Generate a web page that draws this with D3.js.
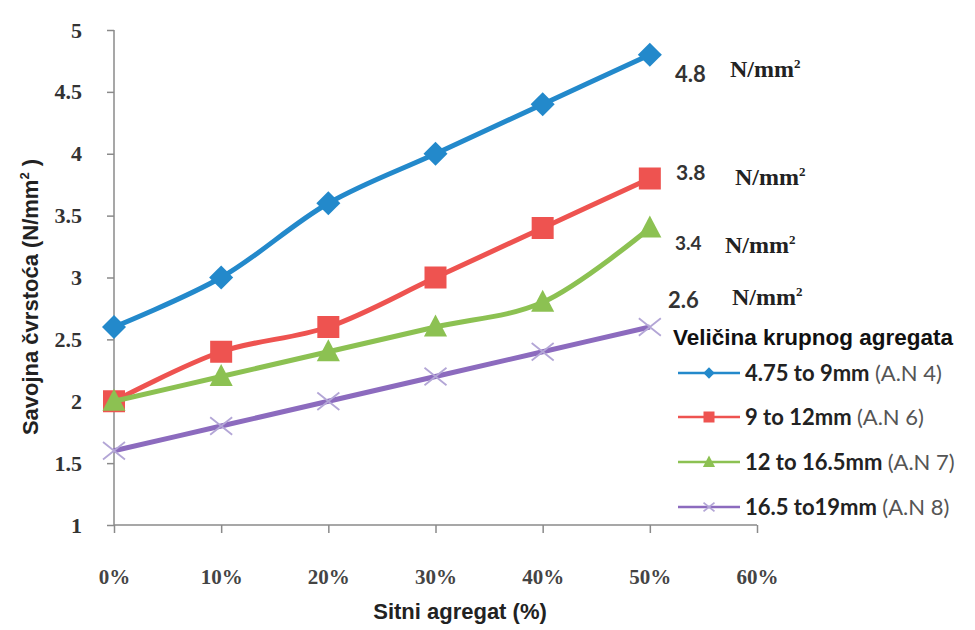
<!DOCTYPE html>
<html><head><meta charset="utf-8">
<script src="https://cdn.jsdelivr.net/npm/d3@7"></script>
<style>body{margin:0;background:#fff}svg{display:block}</style>
</head><body>
<svg id="chart" width="975" height="630"></svg>
<script>
const categories = ["0%","10%","20%","30%","40%","50%"];
const xTickLabels = ["0%","10%","20%","30%","40%","50%","60%"];
const yTicks = [1,1.5,2,2.5,3,3.5,4,4.5,5];
const seriesNames = ["4.75 to 9mm","9 to 12mm","12 to 16.5mm","16.5 to19mm"];
const seriesCodes = ["(A.N 4)","(A.N 6)","(A.N 7)","(A.N 8)"];
const blueValues   = [2.6, 3.0, 3.6, 4.0, 4.4, 4.8];
const redValues    = [2.0, 2.4, 2.6, 3.0, 3.4, 3.8];
const greenValues  = [2.0, 2.2, 2.4, 2.6, 2.8, 3.4];
const purpleValues = [1.6, 1.8, 2.0, 2.2, 2.4, 2.6];
const endLabels = ["4.8","3.8","3.4","2.6"];

const colors = ["#2389CB","#EE5350","#8CC152","#8C6BBE"];
const markers = ["diamond","square","triangle","x"];
const allValues = [blueValues, redValues, greenValues, purpleValues];

const svg = d3.select("#chart");
const x = d3.scalePoint().domain(xTickLabels).range([114, 757]);
const y = d3.scaleLinear().domain([1,5]).range([525, 30]);

const tickFont = "'Liberation Serif', 'Times New Roman', serif";
const sansFont = "Arial, 'Liberation Sans', sans-serif";

// Y axis
const yAxis = svg.append("g").attr("transform","translate(114,0)")
  .call(d3.axisLeft(y).tickValues(yTicks).tickSize(7).tickPadding(25).tickFormat(d3.format("")));
yAxis.select(".domain").attr("stroke","#8a8a8a").attr("stroke-width",1.5).attr("d","M0,30V525");
yAxis.selectAll(".tick line").attr("stroke","#8a8a8a").attr("stroke-width",1.5);
yAxis.selectAll(".tick text").attr("font-family",tickFont).attr("font-size",22).attr("font-weight",700).attr("fill","#333");

// X axis
const xAxis = svg.append("g").attr("transform","translate(0,525)")
  .call(d3.axisBottom(x).tickSize(8).tickPadding(36));
xAxis.select(".domain").attr("stroke","#8a8a8a").attr("stroke-width",1.5).attr("d","M114,0H757");
xAxis.selectAll(".tick line").attr("stroke","#8a8a8a").attr("stroke-width",1.5);
xAxis.selectAll(".tick text").attr("font-family",tickFont).attr("font-size",21).attr("font-weight",700).attr("fill","#444");

// Axis titles
svg.append("text").attr("x",460).attr("y",619).attr("text-anchor","middle")
  .attr("font-family",sansFont).attr("font-weight",700).attr("font-size",22).attr("fill","#222")
  .text("Sitni agregat (%)");
const yt = svg.append("text").attr("transform","translate(38,297) rotate(-90)").attr("text-anchor","middle")
  .attr("font-family",sansFont).attr("font-weight",700).attr("font-size",22).attr("fill","#222");
yt.append("tspan").text("Savojna čvrstoća (N/mm");
yt.append("tspan").attr("dy",-9).attr("font-size",13).text("2");
yt.append("tspan").attr("dy",9).text(" )");

function drawMarker(g, type, cx, cy, color, s) {
  if (type === "diamond") {
    g.append("path").attr("d", d3.symbol(d3.symbolSquare, s*s)())
      .attr("transform",`translate(${cx},${cy}) rotate(45)`).attr("fill",color);
  } else if (type === "square") {
    g.append("rect").attr("x",cx-s/2).attr("y",cy-s/2).attr("width",s).attr("height",s).attr("fill",color);
  } else if (type === "triangle") {
    g.append("path").attr("d",`M${cx},${cy-s*0.6}L${cx+s*0.55},${cy+s*0.45}L${cx-s*0.55},${cy+s*0.45}Z`).attr("fill",color);
  } else {
    const h = s/2;
    g.append("path").attr("d",`M${cx-h},${cy-h*0.8}L${cx+h},${cy+h*0.8}M${cx-h},${cy+h*0.8}L${cx+h},${cy-h*0.8}`)
      .attr("stroke","#B3A6D6").attr("stroke-width",1.8).attr("fill","none");
  }
}

const line = d3.line().x((d,i)=>x(categories[i])).y(d=>y(d)).curve(d3.curveCatmullRom.alpha(0.5));
const markerSizes = [17, 22, 21, 22];

allValues.forEach((vals, si) => {
  const g = svg.append("g");
  g.append("path").datum(vals).attr("d", line).attr("fill","none")
    .attr("stroke", colors[si]).attr("stroke-width", 5).attr("stroke-linejoin","round");
  vals.forEach((v,i) => drawMarker(g, markers[si], x(categories[i]), y(v), colors[si], markerSizes[si]));
});

// End annotations
const annPos = [[675,82,730,77,22],[676,180,735,185,21],[675,250,725,253,19],[668,308,732,305,22]];
endLabels.forEach((t,i) => {
  const [lx,ly,ux,uy,fs] = annPos[i];
  svg.append("text").attr("x",lx).attr("y",ly).attr("font-family","Lato, sans-serif").attr("font-size",fs)
    .attr("font-weight",700).attr("fill","#333").text(t);
  const u = svg.append("text").attr("x",ux).attr("y",uy).attr("font-family",tickFont)
    .attr("font-size",24).attr("font-weight",700).attr("fill","#222");
  u.append("tspan").text("N/mm");
  u.append("tspan").attr("dy",-9).attr("font-size",13).text("2");
});

// Legend
const lg = svg.append("g");
lg.append("text").attr("x",673).attr("y",345).attr("font-family",sansFont)
  .attr("font-weight",700).attr("font-size",22.5).attr("fill","#111").text("Veličina krupnog agregata");
const rowY = [373, 417, 462, 507];
const legendMarkerSizes = [8, 11, 11, 11];
seriesNames.forEach((name,i) => {
  const yy = rowY[i];
  lg.append("line").attr("x1",678).attr("x2",740).attr("y1",yy).attr("y2",yy)
    .attr("stroke",colors[i]).attr("stroke-width",2.5);
  drawMarker(lg, markers[i], 709, yy, colors[i], legendMarkerSizes[i]);
  const t = lg.append("text").attr("x",745).attr("y",yy+8).attr("font-family","Lato, sans-serif")
    .attr("font-size",22).attr("font-weight",700).attr("fill","#222");
  t.append("tspan").text(name + " ");
  t.append("tspan").attr("font-weight",400).attr("fill","#555").text(seriesCodes[i]);
});
</script>
</body></html>
